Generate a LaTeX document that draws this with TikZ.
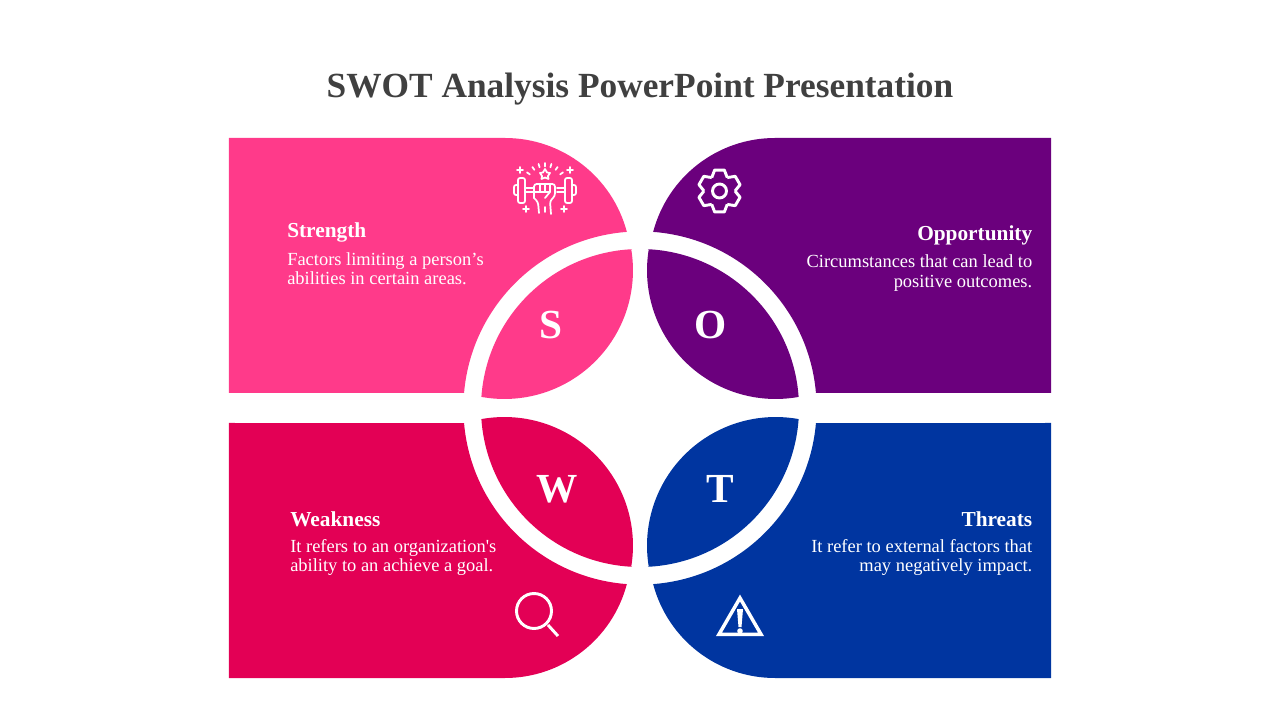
\documentclass[tikz,border=0pt]{standalone}
\usepackage{fontspec}
\setmainfont{Liberation Serif}
\usepackage{tikz}
\definecolor{spink}{RGB}{255,58,138}
\definecolor{opurple}{RGB}{107,0,125}
\definecolor{wred}{RGB}{227,0,85}
\definecolor{tblue}{RGB}{0,53,160}
\definecolor{titlegray}{RGB}{64,64,64}
\def\bigpiece{(-411,270) -- (-135,270) arc[start angle=90,end angle=14.7,radius=126] -- (94.2:176.6) arc[start angle=94.2,end angle=175.1,radius=176.6] -- (-411,15) -- cycle}
\def\leafpiece{(92.8:159) arc[start angle=92.8,end angle=176,radius=159] arc[start angle=-100.3,end angle=9.5,radius=128.6] -- cycle}
\tikzset{
  titletext/.style={text=titlegray,font=\fontsize{26.5}{30}\selectfont\bfseries,anchor=base},
  headtext/.style={text=white,font=\fontsize{16}{18}\selectfont\bfseries,inner sep=0pt},
  bodytext/.style={text=white,font=\fontsize{13.85}{14.6}\selectfont,inner sep=0pt},
  lettertext/.style={text=white,font=\fontsize{31}{36}\selectfont\bfseries,anchor=base,inner sep=0pt},
  iconline/.style={draw=white,line width=2.2pt,line join=round},
  thinline/.style={draw=white,line width=1.3pt,line cap=round,line join=round},
}
\begin{document}
\begin{tikzpicture}[x=0.75pt,y=0.75pt]
\useasboundingbox (-640,-312) rectangle (640,408);
% quarters
\fill[spink] \bigpiece;
\fill[spink] \leafpiece;
\begin{scope}[xscale=-1]
  \fill[opurple] \bigpiece;
  \fill[opurple] \leafpiece;
\end{scope}
\begin{scope}[yscale=-1]
  \fill[wred] \bigpiece;
  \fill[wred] \leafpiece;
\end{scope}
\begin{scope}[xscale=-1,yscale=-1]
  \fill[tblue] \bigpiece;
  \fill[tblue] \leafpiece;
\end{scope}
% texts
\node[titletext] (title) at (0,310) {SWOT Analysis PowerPoint Presentation};
\node[lettertext] (sletter) at (-89.5,69) {S};
\node[lettertext] (oletter) at (71,69) {O};
\node[lettertext] (wletter) at (-82.5,-95) {W};
\node[lettertext] (tletter) at (80.5,-95) {T};
\node[headtext,anchor=base west] (shead) at (-353,170) {Strength};
\node[bodytext,anchor=west,align=left] (sbody) at (-353,139.5) {Factors limiting a person’s\\abilities in certain areas.};
\node[headtext,anchor=base east] (ohead) at (392.5,167) {Opportunity};
\node[bodytext,anchor=east,align=right] (obody) at (392.5,135) {Circumstances that can lead to\\positive outcomes.};
\node[headtext,anchor=base west] (whead) at (-350,-118) {Weakness};
\node[bodytext,anchor=west,align=left] (wbody) at (-350,-149.5) {It refers to an organization\textquotesingle s\\ability to an achieve a goal.};
\node[headtext,anchor=base east] (thead) at (392.5,-118) {Threats};
\node[bodytext,anchor=east,align=right] (tbody) at (392.5,-149.5) {It refer to external factors that\\may negatively impact.};
% fist icon
\begin{scope}[shift={(-95,218)}]
  \draw[thinline,rounded corners=1.5] (-27,12) rectangle (-20,-13);
  \draw[thinline,rounded corners=1.5] (27,12) rectangle (20,-13);
  \draw[thinline,rounded corners=1.5] (-27,5) -- (-31,5) -- (-31,-5) -- (-27,-5);
  \draw[thinline,rounded corners=1.5] (27,5) -- (31,5) -- (31,-5) -- (27,-5);
  \draw[thinline] (-20,2) -- (-12,2) (-20,-2) -- (-12,-2) (20,2) -- (12,2) (20,-2) -- (12,-2);
  \draw[thinline,rounded corners=2] (-11,-8) -- (-11,6) -- (10,6) -- (10,-6) -- (5,-11) -- (6,-24);
  \draw[thinline,rounded corners=2] (-11,-8) -- (-7,-12) -- (-6,-23);
  \draw[thinline] (-5,6) -- (-5,-2) (0,6) -- (0,-2) (5,6) -- (5,-2);
  \draw[thinline] (-11,-2) -- (5,-2) -- (0,-8) (0,-17) -- (0,-22);
  \draw[thinline] (0,21) -- (2,17.5) -- (5,17) -- (3,14) -- (3.5,11) -- (0,12.5) -- (-3.5,11) -- (-3,14) -- (-5,17) -- (-2,17.5) -- cycle;
  \foreach \a in {35,55,73,90,107,125,145}
    \draw[thinline,shift={(0,5)}] (\a:18.5) -- (\a:22);
  \foreach \p in {(-25,20),(25,20),(-19,-19),(19,-19)}
    \draw[thinline,shift={\p}] (-3,0) -- (3,0) (0,-3) -- (0,3);
\end{scope}
% gear icon
\begin{scope}[shift={(79.5,217)}]
  \draw[iconline] (0,0) circle (7);
  \foreach \a in {90,150,210,270,330,30}
    \draw[iconline] (\a-30:15.5) -- (\a-13:21.5) -- (\a+13:21.5) -- (\a+30:15.5);
\end{scope}
% magnifier icon
\draw[iconline] (-106,-203) circle (17.5);
\draw[iconline] (-92,-217) -- (-82,-228);
% warning icon
\draw[iconline,line join=miter,miter limit=10,line width=2.6pt] (100,-190) -- (121,-226.3) -- (79,-226.3) -- cycle;
\fill[white] (97,-201) -- (103,-201) -- (101.5,-219) -- (98.5,-219) -- cycle;
\fill[white] (100,-223) circle (2.8);
\end{tikzpicture}
\end{document}
